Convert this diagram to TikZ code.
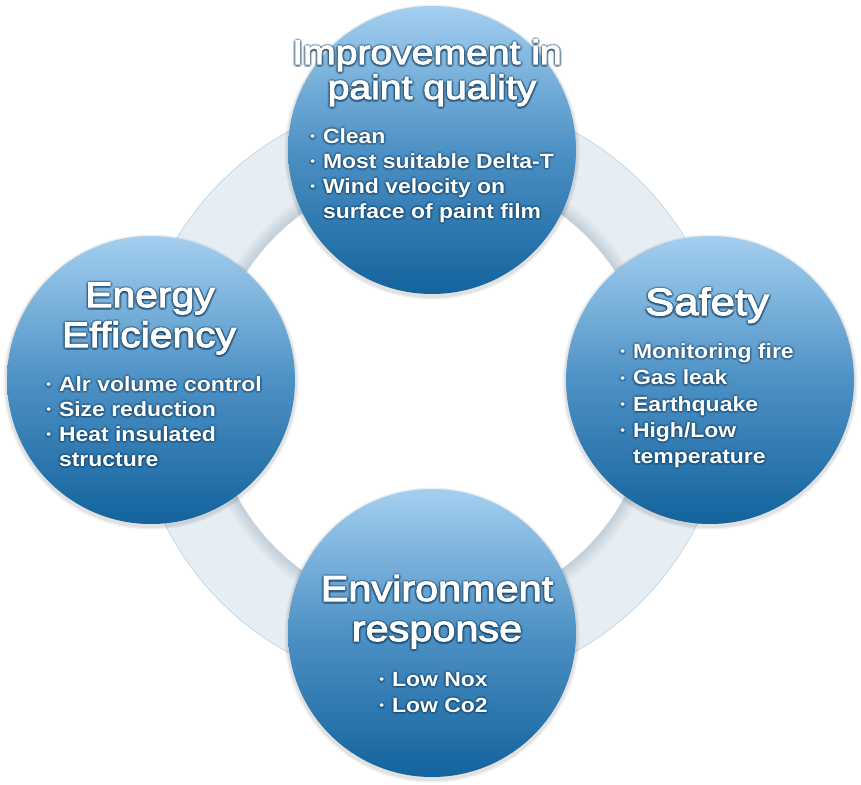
\documentclass[tikz,border=0pt]{standalone}
\usepackage{fontspec}
\setmainfont{Liberation Sans}
\newfontfamily\ttlfont{Liberation Sans}[FakeStretch=1.15,FakeBold=3]
\newfontfamily\itmfont{Liberation Sans}[FakeStretch=1.12]
\definecolor{ringc}{HTML}{E7EEF3}
\definecolor{ringedge}{HTML}{C6D7E5}
\definecolor{ringshadow}{HTML}{8FA2B3}
\definecolor{ctop}{HTML}{A4CFF0}
\definecolor{cmid}{HTML}{4D91C5}
\definecolor{cbot}{HTML}{13639D}
\definecolor{glowc}{HTML}{0B3558}
\newcommand\ttlsize[1]{\ttlfont\fontsize{#1}{#1}\selectfont}
\newcommand\itm{\itmfont\bfseries\fontsize{20.5}{20.5}\selectfont}
\newcommand\bul{\llap{\raisebox{2.5pt}{\fontsize{12}{12}\selectfont •}\hspace{8pt}}}
\newcommand\glowtext[4]{%
  \foreach \dx/\dy in {1.6/0,-1.6/0,0/1.6,0/-1.6,1.1/1.1,1.1/-1.1,-1.1/1.1,-1.1/-1.1,0/2.6,1.2/2.3,-1.2/2.3,2.4/0.8,-2.4/0.8}
    {\node[shd,anchor=#2] at ([shift={(\dx,\dy)}]#3) {#4};}
  \node[txt,anchor=#2] (#1) at (#3) {#4};}
\begin{document}
\begin{tikzpicture}[x=1pt,y=-1pt,
  bubble/.style={circle,minimum size=288pt,inner sep=0pt,top color=ctop,bottom color=cbot,middle color=cmid},
  bshadow/.style={fill=black,opacity=0.06},
  txt/.style={text=white,inner sep=0pt,outer sep=0pt},
  shd/.style={text=glowc,text opacity=0.12,inner sep=0pt,outer sep=0pt}]
\fill[white] (0,0) rectangle (861,784);
\useasboundingbox (0,0) rectangle (861,784);
\coordinate (c) at (431,392);
% ring
\fill[ringc,even odd rule] (c) circle[radius=297pt] (c) circle[radius=220pt];
\foreach \i [evaluate=\i as \o using 0.32*(1-\i/14)] in {0,...,13}
  \draw[ringshadow,line width=1.2pt,opacity=\o] (c) circle[radius={220.6pt+\i pt}];
\draw[ringedge,line width=0.8pt] (c) circle[radius=297pt];
% circle shadows
\foreach \p in {(432,152),(710,382),(432,635),(151,382)}{
  \fill[bshadow] \p circle[radius=147.5pt];
  \fill[bshadow] \p circle[radius=146pt];
}
% circles
\node[bubble] (quality) at (432,150) {};
\node[bubble] (safety) at (710,380) {};
\node[bubble] (env) at (432,633) {};
\node[bubble] (energy) at (151,380) {};
% top
\glowtext{qt1}{base}{427,64}{\ttlsize{34}Improvement in}
\glowtext{qt2}{base}{432,99}{\ttlsize{34}paint quality}
\glowtext{qb1}{base west}{323,143}{\itm\bul Clean}
\glowtext{qb2}{base west}{323,168}{\itm\bul Most suitable Delta-T}
\glowtext{qb3}{base west}{323,193}{\itm\bul Wind velocity on}
\glowtext{qb4}{base west}{323,218}{\itm surface of paint film}
% left
\glowtext{et1}{base}{150,307}{\ttlsize{35.5}Energy}
\glowtext{et2}{base}{149,347}{\ttlsize{35.5}Efficiency}
\glowtext{eb1}{base west}{59,391}{\itm\bul Alr volume control}
\glowtext{eb2}{base west}{59,416}{\itm\bul Size reduction}
\glowtext{eb3}{base west}{59,441}{\itm\bul Heat insulated}
\glowtext{eb4}{base west}{59,466}{\itm structure}
% right
\glowtext{st1}{base}{707,315}{\ttlsize{38}Safety}
\glowtext{sb1}{base west}{633,358}{\itm\bul Monitoring fire}
\glowtext{sb2}{base west}{633,384.5}{\itm\bul Gas leak}
\glowtext{sb3}{base west}{633,411}{\itm\bul Earthquake}
\glowtext{sb4}{base west}{633,437}{\itm\bul High/Low}
\glowtext{sb5}{base west}{633,463}{\itm temperature}
% bottom
\glowtext{vt1}{base}{437,601}{\ttlsize{36}Environment}
\glowtext{vt2}{base}{437,641}{\ttlsize{36}response}
\glowtext{vb1}{base west}{392,686}{\itm\bul Low Nox}
\glowtext{vb2}{base west}{392,712}{\itm\bul Low Co2}
\end{tikzpicture}
\end{document}
